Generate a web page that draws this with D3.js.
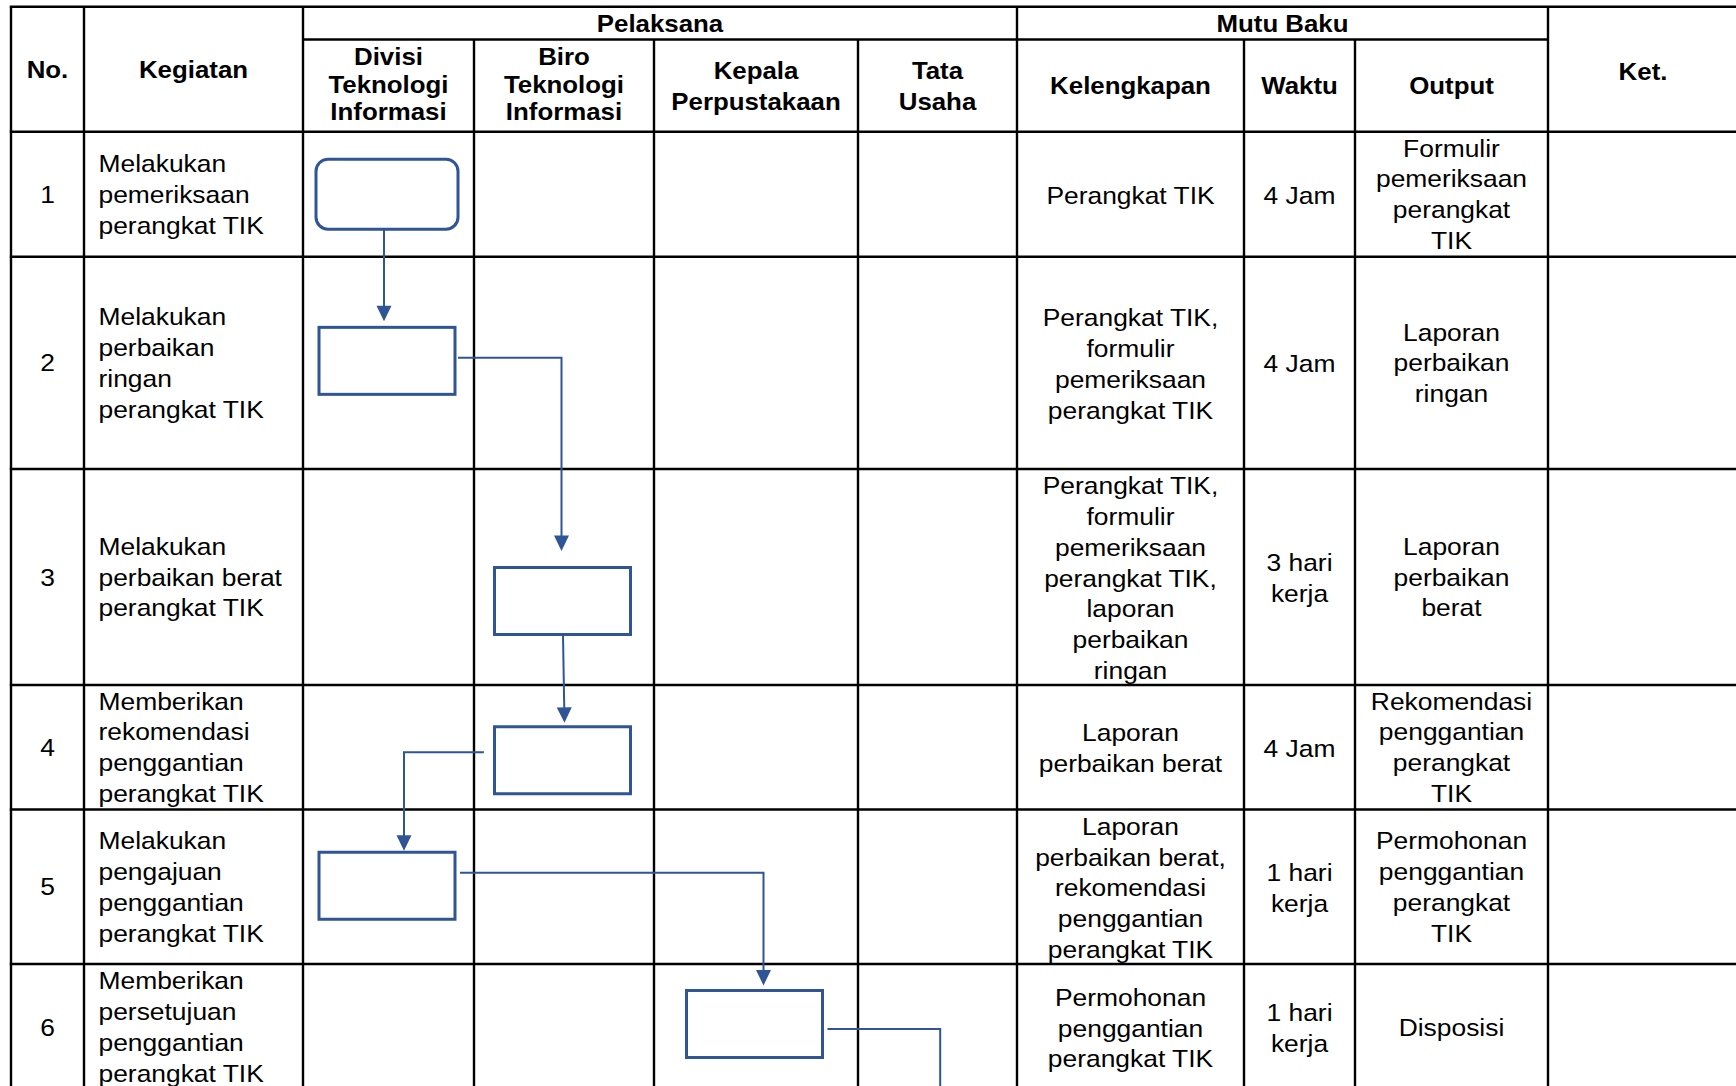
<!DOCTYPE html>
<html lang="id">
<head>
<meta charset="UTF-8">
<title>SOP Pemeliharaan Perangkat TIK</title>
<script src="https://d3js.org/d3.v7.min.js"></script>
<style>
  html, body { margin: 0; padding: 0; background: #fff; }
  svg { display: block; }
  text { font-family: "Liberation Sans", Arial, sans-serif; fill: #000; }
  .head { font-weight: bold; font-size: 23.5px; }
  .cell { font-size: 24px; }
  .grid { stroke: #000; stroke-width: 2.4; }
  .box { fill: #fff; stroke: #2f5597; stroke-width: 3; }
  .flow { fill: none; stroke: #2f5597; stroke-width: 2; }
  .tip { fill: #2f5597; }
</style>
</head>
<body>
<svg width="1736" height="1086"></svg>
<script>
const colKeys = ["no", "kegiatan", "divisi", "biro", "kepala", "tu", "kelengkapan", "waktu", "output", "ket"];
const colTitles = [
  ["No."], ["Kegiatan"],
  ["Divisi", "Teknologi", "Informasi"], ["Biro", "Teknologi", "Informasi"],
  ["Kepala", "Perpustakaan"], ["Tata", "Usaha"],
  ["Kelengkapan"], ["Waktu"], ["Output"], ["Ket."]
];
const groupTitles = [
  { title: "Pelaksana", from: "divisi", to: "tu" },
  { title: "Mutu Baku", from: "kelengkapan", to: "output" }
];

const rowNo = ["1", "2", "3", "4", "5", "6"];
const kegiatan = [
  ["Melakukan", "pemeriksaan", "perangkat TIK"],
  ["Melakukan", "perbaikan", "ringan", "perangkat TIK"],
  ["Melakukan", "perbaikan berat", "perangkat TIK"],
  ["Memberikan", "rekomendasi", "penggantian", "perangkat TIK"],
  ["Melakukan", "pengajuan", "penggantian", "perangkat TIK"],
  ["Memberikan", "persetujuan", "penggantian", "perangkat TIK"]
];
const kelengkapan = [
  ["Perangkat TIK"],
  ["Perangkat TIK,", "formulir", "pemeriksaan", "perangkat TIK"],
  ["Perangkat TIK,", "formulir", "pemeriksaan", "perangkat TIK,", "laporan", "perbaikan", "ringan"],
  ["Laporan", "perbaikan berat"],
  ["Laporan", "perbaikan berat,", "rekomendasi", "penggantian", "perangkat TIK"],
  ["Permohonan", "penggantian", "perangkat TIK"]
];
const waktu = [
  ["4 Jam"], ["4 Jam"], ["3 hari", "kerja"], ["4 Jam"], ["1 hari", "kerja"], ["1 hari", "kerja"]
];
const output = [
  ["Formulir", "pemeriksaan", "perangkat", "TIK"],
  ["Laporan", "perbaikan", "ringan"],
  ["Laporan", "perbaikan", "berat"],
  ["Rekomendasi", "penggantian", "perangkat", "TIK"],
  ["Permohonan", "penggantian", "perangkat", "TIK"],
  ["Disposisi"]
];

// flowchart: which lane carries each step, and its symbol
const stepLane = ["divisi", "divisi", "biro", "biro", "divisi", "kepala"];
const stepShape = ["terminator", "process", "process", "process", "process", "process"];
// flows between steps; the last one continues to Tata Usaha below the page
const flows = [[0, 1], [1, 2], [2, 3], [3, 4], [4, 5], [5, "tu"]];

// ---- layout ----
const colEdges = [11, 84, 303, 474, 654, 858, 1017, 1244, 1355, 1548, 1738];
const topY = 6.7, groupY = 39.5, headBottom = 131.7;
const rowEdges = [131.7, 256.7, 469, 685, 809.5, 964, 1090];
const boxNudge = [0, -2, 24, 13, -1, -3];
// exit offset, elbow offset and arrow gap per flow
const routeTweak = [
  { sx: -3, gap: 6 },
  { out: 3, dy: -3, dx: -1, gap: 16.6 },
  { sx: 0.5, ex: 1.5, gap: 4 },
  { out: 10.6, dy: -8, dx: 17, gap: 1.6 },
  { out: 5, dy: -13, dx: 9, gap: 5 },
  { out: 5, dy: 5, dx: 2.7, gap: 0 }
];

const svg = d3.select("svg");

const colLeft = d3.scaleOrdinal().domain(colKeys).range(colEdges.slice(0, -1));
const colRight = d3.scaleOrdinal().domain(colKeys).range(colEdges.slice(1));
const colMid = k => (colLeft(k) + colRight(k)) / 2;
const rowTop = d3.scaleOrdinal().domain(d3.range(6)).range(rowEdges.slice(0, -1));
const rowBot = d3.scaleOrdinal().domain(d3.range(6)).range(rowEdges.slice(1));
const rowMid = i => (rowTop(i) + rowBot(i)) / 2;

const STRETCH = 1.1;
function multiline(g, arr, x, cy, lh, size, anchor, cls) {
  const base = cy - (arr.length - 1) * lh / 2 + size * 0.716 / 2;
  arr.forEach((t, i) => {
    g.append("text")
      .attr("class", cls)
      .attr("text-anchor", anchor)
      .attr("transform", `translate(${x},${base + i * lh}) scale(${STRETCH},1)`)
      .text(t);
  });
}

// ---- grid ----
const grid = svg.append("g");
const innerTop = new Set(["biro", "kepala", "tu", "waktu", "output"]);
colKeys.forEach(k => {
  const x = colLeft(k);
  grid.append("line").attr("class", "grid")
    .attr("x1", x).attr("x2", x)
    .attr("y1", innerTop.has(k) ? groupY : topY)
    .attr("y2", rowEdges[rowEdges.length - 1]);
});
grid.append("line").attr("class", "grid")
  .attr("x1", colEdges[colEdges.length - 1]).attr("x2", colEdges[colEdges.length - 1])
  .attr("y1", topY).attr("y2", rowEdges[rowEdges.length - 1]);
[topY, ...rowEdges].forEach(y => {
  grid.append("line").attr("class", "grid")
    .attr("x1", colEdges[0] - 1.2).attr("x2", colEdges[colEdges.length - 1])
    .attr("y1", y).attr("y2", y);
});
groupTitles.forEach(gt => {
  grid.append("line").attr("class", "grid")
    .attr("x1", colLeft(gt.from)).attr("x2", colRight(gt.to))
    .attr("y1", groupY).attr("y2", groupY);
});

// ---- header text ----
const head = svg.append("g");
groupTitles.forEach(gt => {
  multiline(head, [gt.title], (colLeft(gt.from) + colRight(gt.to)) / 2, (topY + groupY) / 2, 27, 23.5, "middle", "head");
});
colKeys.forEach((k, i) => {
  const lines = colTitles[i];
  const idx = colKeys.indexOf(k);
  const inGroup = groupTitles.some(gt => idx >= colKeys.indexOf(gt.from) && idx <= colKeys.indexOf(gt.to));
  let cy = ((inGroup ? groupY : topY) + headBottom) / 2;
  let lh = 31;
  if (lines.length > 2) { lh = 27.5; cy -= 1.5; }
  if (k === "ket") cy += 2;
  multiline(head, lines, colMid(k), cy, lh, 23.5, "middle", "head");
});

// ---- body text ----
const body = svg.append("g");
const LH = 30.8;
rowNo.forEach((n, i) => {
  const cy = rowMid(i);
  multiline(body, [n], colMid("no"), cy, LH, 24, "middle", "cell");
  multiline(body, kegiatan[i], colLeft("kegiatan") + 14.5, cy, LH, 24, "start", "cell");
  multiline(body, kelengkapan[i], colMid("kelengkapan"), cy + 1, LH, 24, "middle", "cell");
  multiline(body, waktu[i], colMid("waktu"), cy + 1, LH, 24, "middle", "cell");
  multiline(body, output[i], colMid("output"), cy, LH, 24, "middle", "cell");
});

// ---- flowchart ----
const boxes = stepLane.map((lane, i) => {
  const term = stepShape[i] === "terminator";
  const w = term ? 142 : 136, h = term ? 70 : 67;
  const cx = colMid(lane) - 1.5, cy = rowMid(i) + boxNudge[i];
  return { cx, cy, w, h, term, left: cx - w / 2, right: cx + w / 2, top: cy - h / 2, bottom: cy + h / 2 };
});

const chart = svg.append("g");
const tipW = 7.5, tipL = 15.5;

flows.forEach(([a, b], i) => {
  const s = boxes[a], t = routeTweak[i];
  let pts;
  if (typeof b === "number" && stepLane[a] === stepLane[b]) {
    const e = boxes[b];
    const x1 = s.cx + t.sx, x2 = s.cx + t.sx + (t.ex || 0);
    pts = [[x1, s.bottom], [x2, e.top - t.gap]];
  } else {
    const tx = typeof b === "number" ? boxes[b].cx : colMid(b);
    const ty = typeof b === "number" ? boxes[b].top - t.gap : rowEdges[rowEdges.length - 1] + 30;
    const goRight = tx > s.cx;
    const x0 = goRight ? s.right + t.out : s.left - t.out;
    const y0 = s.cy + t.dy;
    pts = [[x0, y0], [tx + t.dx, y0], [tx + t.dx, ty]];
  }
  const end = pts[pts.length - 1];
  const prev = pts[pts.length - 2];
  const hasTip = typeof b === "number";
  const line = pts.slice();
  if (hasTip) {
    const dx = end[0] - prev[0], dy = end[1] - prev[1];
    const len = Math.hypot(dx, dy);
    line[line.length - 1] = [end[0] - dx / len * (tipL - 2), end[1] - dy / len * (tipL - 2)];
  }
  chart.append("path").attr("class", "flow").attr("d", d3.line()(line));
  if (hasTip) {
    const dx = end[0] - prev[0], dy = end[1] - prev[1];
    const len = Math.hypot(dx, dy), ux = dx / len, uy = dy / len;
    const bx = end[0] - ux * tipL, by = end[1] - uy * tipL;
    chart.append("path").attr("class", "tip")
      .attr("d", d3.line()([[end[0], end[1]], [bx - uy * tipW, by + ux * tipW], [bx + uy * tipW, by - ux * tipW]]) + "Z");
  }
});

chart.selectAll("rect.box")
  .data(boxes)
  .enter()
  .append("rect")
  .attr("class", "box")
  .attr("x", d => d.left)
  .attr("y", d => d.top)
  .attr("width", d => d.w)
  .attr("height", d => d.h)
  .attr("rx", d => d.term ? 12 : 0);
</script>
</body>
</html>
